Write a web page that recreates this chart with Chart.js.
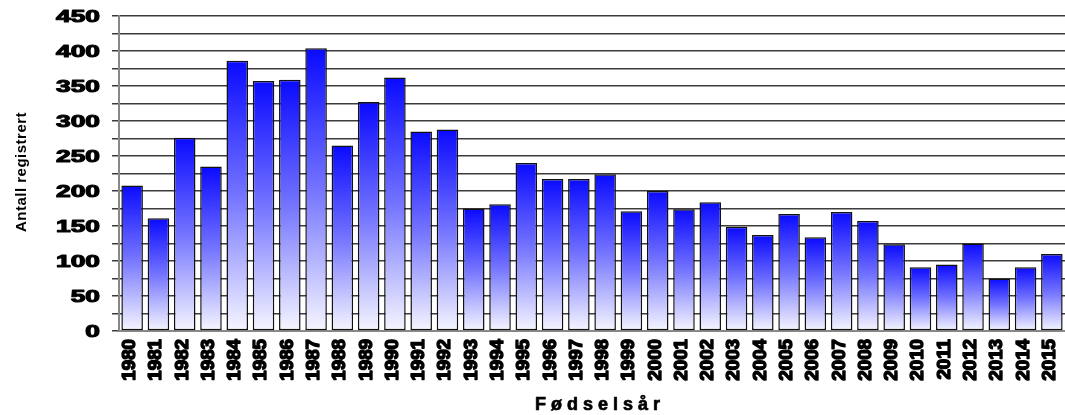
<!DOCTYPE html>
<html>
<head>
<meta charset="utf-8">
<script src="https://cdn.jsdelivr.net/npm/chart.js@4/dist/chart.umd.min.js"></script>
<style>
  html, body { margin: 0; padding: 0; background: #fff; }
  #c { display: block; }
</style>
</head>
<body>
<canvas id="c" width="1065" height="415"></canvas>
<script>
// Registrations per birth year
const years = ['1980','1981','1982','1983','1984','1985','1986','1987','1988','1989',
  '1990','1991','1992','1993','1994','1995','1996','1997','1998','1999',
  '2000','2001','2002','2003','2004','2005','2006','2007','2008','2009',
  '2010','2011','2012','2013','2014','2015'];
const registered = [208, 161, 276, 235, 386, 357, 359, 404, 265, 327,
  362, 285, 288, 175, 181, 240, 217, 217, 224, 171,
  200, 174, 184, 149, 137, 167, 134, 170, 157, 124,
  91, 95, 125, 75, 91, 110];
const yTickLabels = [0, 50, 100, 150, 200, 250, 300, 350, 400, 450];
const xTitle = 'Fødselsår';
const yTitle = 'Antall registrert';

const FONT = '"Liberation Sans", Arial, sans-serif';

// Vertical gradient per bar: saturated blue at the top, fading to white at the base
function barFill(ctx) {
  const chart = ctx.chart;
  const area = chart.chartArea;
  if (!area || ctx.parsed === undefined) return '#1010ff';
  const y = chart.scales.y;
  const top = y.getPixelForValue(ctx.parsed.y);
  const base = y.getPixelForValue(0);
  const g = chart.ctx.createLinearGradient(0, top, 0, base);
  g.addColorStop(0, '#0a0aff');
  g.addColorStop(0.5, '#7474ff');
  g.addColorStop(1, '#f6f6ff');
  return g;
}

// Draws the tick labels and axis titles in a heavy, widened style
const labelPlugin = {
  id: 'labels',
  afterDraw(chart) {
    const ctx = chart.ctx;
    const xs = chart.scales.x, ys = chart.scales.y;
    ctx.save();
    ctx.fillStyle = '#000';
    ctx.strokeStyle = '#000';
    ctx.lineJoin = 'round';

    // y tick labels, stretched horizontally
    ctx.font = 'bold 17px ' + FONT;
    ctx.textAlign = 'right';
    ctx.textBaseline = 'middle';
    ctx.lineWidth = 1.1;
    yTickLabels.forEach(v => {
      const py = ys.getPixelForValue(v);
      ctx.save();
      ctx.translate(100, py + 1);
      ctx.scale(1.55, 1);
      ctx.fillText(String(v), 0, 0);
      ctx.strokeText(String(v), 0, 0);
      ctx.restore();
    });

    // x tick labels, rotated to read upward
    ctx.font = 'bold 18px ' + FONT;
    ctx.lineWidth = 1.4;
    years.forEach((lab, i) => {
      const px = xs.getPixelForValue(i) - 2;
      ctx.save();
      ctx.translate(px, 339);
      ctx.rotate(-Math.PI / 2);
      ctx.scale(1.04, 1);
      ctx.textAlign = 'right';
      ctx.textBaseline = 'middle';
      ctx.fillText(lab, 0, 0);
      ctx.strokeText(lab, 0, 0);
      ctx.restore();
    });

    // x axis title
    ctx.font = 'bold 18px ' + FONT;
    ctx.letterSpacing = '5px';
    ctx.textAlign = 'center';
    ctx.textBaseline = 'middle';
    ctx.lineWidth = 0.7;
    ctx.fillText(xTitle, 600, 405);
    ctx.strokeText(xTitle, 600, 405);

    // y axis title
    ctx.font = 'bold 15px ' + FONT;
    ctx.letterSpacing = '0.5px';
    ctx.save();
    ctx.translate(22, 172);
    ctx.rotate(-Math.PI / 2);
    ctx.fillText(yTitle, 0, 0);
    ctx.restore();

    ctx.restore();
  }
};

new Chart(document.getElementById('c'), {
  type: 'bar',
  data: {
    labels: years,
    datasets: [{
      data: registered,
      backgroundColor: barFill,
      borderColor: '#111',
      borderWidth: 1.5,
      borderSkipped: false,
      barPercentage: 0.82,
      categoryPercentage: 1.0
    }]
  },
  options: {
    responsive: false,
    animation: false,
    layout: { padding: { top: 16, right: 0, bottom: 0, left: 0 } },
    plugins: { legend: { display: false }, tooltip: { enabled: false } },
    scales: {
      x: {
        grid: { display: false },
        border: { display: true, color: '#888', width: 2 },
        ticks: { display: false },
        afterFit(scale) { scale.height = 84; }
      },
      y: {
        min: 0,
        max: 450,
        ticks: { display: false, stepSize: 25 },
        grid: {
          color: '#3c3c3c',
          lineWidth: 1.5,
          drawTicks: true,
          tickLength: 7
        },
        border: { display: true, color: '#888', width: 2 },
        afterFit(scale) { scale.width = 119; }
      }
    }
  },
  plugins: [labelPlugin]
});
</script>
</body>
</html>
